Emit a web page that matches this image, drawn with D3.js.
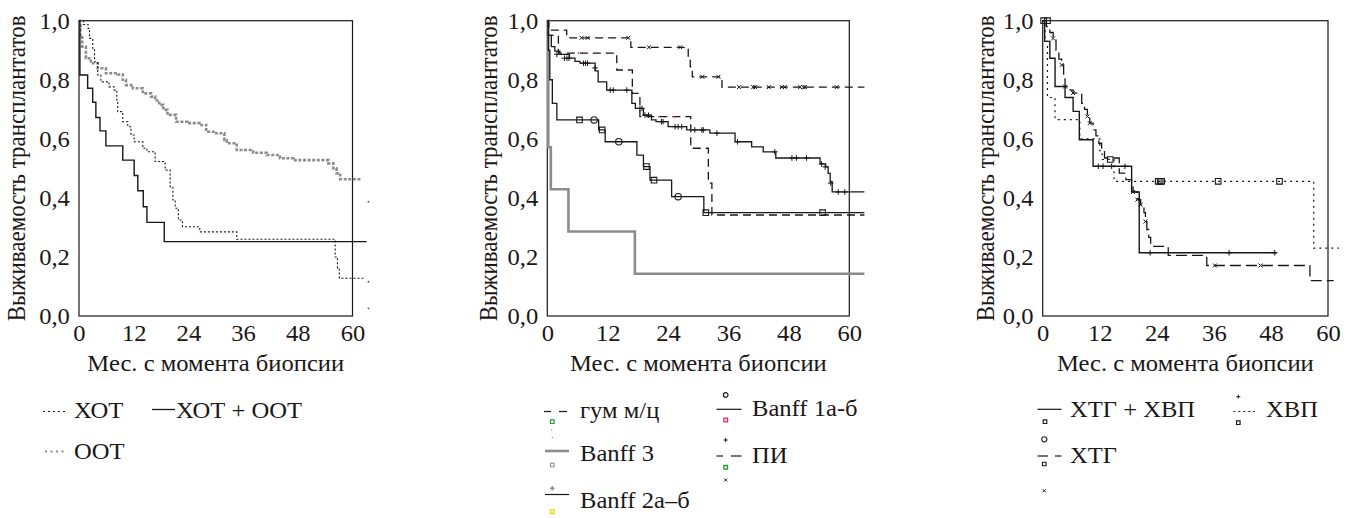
<!DOCTYPE html>
<html lang="ru">
<head>
<meta charset="utf-8">
<title>Выживаемость трансплантатов</title>
<script src="https://cdnjs.cloudflare.com/ajax/libs/d3/7.8.5/d3.min.js"></script>
<style>
  body { margin: 0; background: #fff; }
</style>
</head>
<body>
<div id="chart"></div>
<script>

const xTicks = [0, 12, 24, 36, 48, 60];
const yTicks = [0, 0.2, 0.4, 0.6, 0.8, 1.0];
const xLabel = "Мес. с момента биопсии";
const yLabel = "Выживаемость трансплантатов";

// ---- panel 1: [month, survival]
const khot = [[0,1],[1.0,0.987],[2.0,0.974],[2.3,0.94],[3.0,0.907],[3.4,0.861],[4.1,0.816],[4.8,0.793],[6.6,0.776],[7.7,0.765],[8.3,0.726],[8.5,0.692],[9.6,0.658],[10.7,0.641],[11.4,0.613],[12.1,0.59],[14.0,0.568],[14.9,0.556],[16.7,0.523],[18.9,0.494],[20.0,0.438],[20.6,0.393],[21.1,0.365],[21.8,0.325],[22.7,0.302],[26.5,0.285],[34.6,0.26],[56.2,0.2],[56.7,0.162],[57.1,0.128],[62.4,0.128]];
const khotOot = [[0,1],[0.2,0.816],[1.9,0.771],[3.0,0.724],[3.7,0.672],[4.6,0.627],[5.9,0.576],[9.6,0.528],[12.1,0.476],[12.9,0.424],[14.1,0.37],[14.9,0.317],[18.7,0.252],[63.1,0.252]];
const oot = [[0,1],[0.3,0.95],[0.7,0.912],[1.5,0.873],[2.6,0.856],[4.1,0.839],[5.9,0.822],[8.5,0.818],[9.6,0.8],[10.3,0.782],[11.8,0.771],[14.0,0.754],[15.8,0.743],[16.7,0.73],[17.6,0.715],[18.5,0.698],[19.4,0.681],[21.3,0.658],[23.8,0.653],[26.4,0.647],[27.9,0.624],[30.1,0.619],[31.9,0.596],[32.4,0.585],[34.6,0.562],[38.2,0.553],[41.2,0.545],[44.1,0.534],[47.0,0.528],[53.6,0.528],[54.7,0.517],[55.8,0.5],[56.5,0.483],[57.3,0.463],[62,0.463]];
const strayDots = [[63.5,0.387],[63.5,0.116],[63.5,0.026]];

// ---- panel 2
const gum = [[0,1],[0.2,0.95],[2.2,0.89],[13.8,0.833],[16.9,0.754],[18.4,0.675],[28.5,0.568],[32.0,0.45],[32.7,0.342],[63,0.342]];
const gumDots = [[0.5,1],[6.2,0.89],[16.6,0.833],[22.2,0.675],[25.2,0.675]];
const banff3 = [[0,1],[0.2,0.571],[0.7,0.429],[4.2,0.286],[17.4,0.143],[63,0.143]];
const banff1 = [[0,1],[0.2,0.9],[0.5,0.8],[1.0,0.72],[1.9,0.664],[10.2,0.63],[11.5,0.59],[17.8,0.545],[19.1,0.506],[20.4,0.46],[24.7,0.404],[31.1,0.35],[63,0.35]];
const banff1Squares = [[6.4,0.664],[10.9,0.63],[19.7,0.506],[21.2,0.46],[31.5,0.35],[54.7,0.35]];
const banff1Circles = [[9.3,0.664],[14.2,0.59],[26.0,0.404]];
const banff2 = [[0,1],[0.2,0.95],[0.8,0.912],[1.5,0.897],[2.5,0.886],[4.4,0.873],[5.5,0.862],[6.5,0.856],[9.5,0.83],[10.1,0.793],[11.8,0.765],[16.8,0.72],[17.5,0.703],[19.1,0.68],[20.7,0.664],[21.6,0.658],[24.0,0.641],[27.7,0.63],[32.3,0.619],[37.3,0.59],[40.6,0.573],[42.9,0.556],[45.4,0.535],[54.2,0.515],[55.3,0.505],[55.8,0.483],[56.2,0.455],[56.6,0.42],[63,0.42]];
const banff2Plus = [[1.9,0.886],[3.4,0.873],[3.9,0.873],[4.3,0.873],[7.2,0.856],[7.6,0.856],[8.0,0.856],[9.5,0.84],[12.5,0.765],[13.1,0.765],[15.8,0.765],[18.4,0.703],[18.8,0.703],[19.4,0.68],[20.1,0.68],[22.7,0.658],[23.0,0.658],[25.4,0.641],[26.0,0.641],[26.7,0.641],[29.3,0.63],[30.7,0.63],[31.0,0.63],[33.7,0.619],[37.8,0.59],[45.2,0.556],[48.6,0.535],[49.5,0.535],[51.5,0.535],[54.5,0.515],[55.2,0.505],[56.3,0.45],[57.8,0.42],[59.1,0.42]];
const pi = [[0,1],[0.3,0.968],[3.85,0.942],[16.6,0.91],[28.0,0.87],[28.4,0.844],[28.8,0.81],[34.7,0.775],[63,0.775]];
const piCross = [[6.8,0.942],[8.0,0.942],[16.1,0.942],[20.2,0.91],[26.4,0.91],[30.8,0.81],[34.0,0.81],[38.1,0.775],[40.9,0.775],[41.3,0.775],[44.0,0.775],[46.6,0.775],[47.2,0.775],[50.2,0.775],[50.9,0.775],[51.2,0.775],[57.5,0.775]];

// ---- panel 3
const khtgKhvp = [[0,1],[0.4,0.93],[1.5,0.873],[2.6,0.777],[4.7,0.74],[6.4,0.693],[7.7,0.597],[10.6,0.507],[18.7,0.42],[20.3,0.214],[49.2,0.214]];
const khtgKhvpPlus = [[11.7,0.507],[12.7,0.507],[14.5,0.507],[17.3,0.507],[22.6,0.214],[39.2,0.214],[48.8,0.214]];
const khtg = [[0,1],[0.8,0.98],[1.5,0.96],[2.2,0.94],[2.8,0.9],[3.4,0.87],[4.0,0.85],[4.4,0.81],[4.7,0.777],[5.8,0.765],[6.4,0.755],[8.2,0.72],[8.8,0.7],[9.4,0.676],[9.9,0.653],[10.6,0.63],[11.2,0.61],[11.8,0.585],[12.4,0.56],[13.0,0.535],[16.1,0.484],[17.5,0.462],[18.7,0.44],[19.0,0.42],[19.9,0.394],[20.6,0.377],[21.3,0.35],[21.6,0.32],[21.9,0.293],[22.3,0.266],[22.7,0.236],[26.4,0.205],[34.5,0.171],[56.2,0.12],[61.2,0.12]];
const khtgCross = [[2.2,0.94],[4.0,0.85],[4.7,0.777],[6.4,0.755],[9.4,0.676],[9.9,0.653],[19.0,0.42],[19.9,0.394],[20.6,0.377],[21.6,0.32],[36.2,0.171],[45.8,0.171]];
const khvp = [[0,1],[0.5,0.93],[1.0,0.74],[2.6,0.665],[7.8,0.6],[12.0,0.56],[12.5,0.53],[15.0,0.456],[57.0,0.23],[62.3,0.23]];
const khvpSquares = [[0.2,1],[1.0,1],[14.2,0.53],[24.3,0.456],[24.7,0.456],[25.0,0.456],[36.9,0.456],[49.8,0.456]];

const ink = "#1a1718", gray = "#8c8c8c";
const serif = "'Liberation Serif', 'DejaVu Serif', serif";
const fontSize = "23px";
const stretch = 1.07; // the printed figure is a bit wider than tall

const svg = d3.select("#chart").append("svg")
  .attr("width", 1356).attr("height", 518)
  .attr("font-family", serif).attr("font-size", 23);

const plotTop = 20.7, plotBottom = 316;
const panels = [
  {x0: 79, x1: 352.5, ylabX: 25},
  {x0: 547.3, x1: 849.3, ylabX: 496.5},
  {x0: 1042.7, x1: 1328, ylabX: 993.5}
];

function styleText(sel) {
  sel.style("font-family", serif).style("font-size", fontSize).attr("fill", ink);
}

function makePanel(p) {
  const x = d3.scaleLinear().domain([0, 60]).range([p.x0, p.x1]);
  const y = d3.scaleLinear().domain([0, 1]).range([plotBottom, plotTop]);
  const g = svg.append("g");

  g.append("g").attr("transform", `translate(0,${plotBottom})`)
    .call(d3.axisBottom(x).tickValues(xTicks).tickSize(0).tickPadding(9))
    .call(a => a.select(".domain").remove())
    .call(a => styleText(a.selectAll("text").attr("transform", `scale(${stretch},1)`)));
  g.append("g").attr("transform", `translate(${p.x0},0)`)
    .call(d3.axisLeft(y).tickValues(yTicks).tickSize(0).tickPadding(8.5)
      .tickFormat(d => d.toFixed(1).replace(".", ",")))
    .call(a => a.select(".domain").remove())
    .call(a => styleText(a.selectAll("text").attr("transform", `scale(${stretch},1)`)));

  g.append("rect")
    .attr("x", x(0)).attr("y", y(1))
    .attr("width", x(60) - x(0)).attr("height", y(0) - y(1))
    .attr("fill", "none").attr("stroke", ink).attr("stroke-width", 1.2);

  g.append("text")
    .attr("transform", `translate(${(p.x0 + p.x1) / 2},371) scale(${stretch},1)`)
    .attr("text-anchor", "middle").text(xLabel).call(styleText);
  g.append("text")
    .attr("transform", `translate(${p.ylabX},${(plotTop + plotBottom) / 2}) rotate(-90) scale(1,${stretch})`)
    .attr("text-anchor", "middle").text(yLabel).call(styleText);

  return {g, x, y};
}

function curve(P, data, stroke, w, dash) {
  P.g.append("path").datum(data)
    .attr("d", d3.line().x(d => P.x(d[0])).y(d => P.y(d[1])).curve(d3.curveStepAfter))
    .attr("fill", "none").attr("stroke", stroke)
    .attr("stroke-width", w).attr("stroke-dasharray", dash || null);
}

function shapePath(shape, cx, cy, r) {
  if (shape === "plus") return `M${cx - r},${cy}H${cx + r}M${cx},${cy - r}V${cy + r}`;
  if (shape === "cross") return `M${cx - r},${cy - r}L${cx + r},${cy + r}M${cx - r},${cy + r}L${cx + r},${cy - r}`;
  if (shape === "square") return `M${cx - r},${cy - r}h${2 * r}v${2 * r}h${-2 * r}Z`;
  return `M${cx - r},${cy}a${r},${r} 0 1,0 ${2 * r},0a${r},${r} 0 1,0 ${-2 * r},0Z`;
}

function marks(P, pts, shape, color, r, w) {
  const s = P.g.append("g").attr("fill", shape === "dot" ? color : "none")
    .attr("stroke", shape === "dot" ? "none" : color).attr("stroke-width", w || 1);
  s.selectAll("path").data(pts).join("path")
    .attr("d", d => shapePath(shape, P.x(d[0]), P.y(d[1]), r));
}

// legend helpers (pixel layout of the legend boxes only)
function legLine(x1, x2, y, stroke, w, dash) {
  svg.append("line").attr("x1", x1).attr("x2", x2).attr("y1", y).attr("y2", y)
    .attr("stroke", stroke).attr("stroke-width", w).attr("stroke-dasharray", dash || null);
}
function legText(x, y, t) {
  svg.append("text").attr("transform", `translate(${x},${y}) scale(${stretch},1)`)
    .text(t).call(styleText);
}
function legMark(shape, x, y, r, color, w) {
  svg.append("path").attr("d", shapePath(shape, x, y, r))
    .attr("fill", shape === "dot" ? color : "none")
    .attr("stroke", shape === "dot" ? "none" : color).attr("stroke-width", w || 1);
}

// ---- panel 1
const P1 = makePanel(panels[0]);
curve(P1, oot, gray, 2.6, "3,1.6");
curve(P1, khot, ink, 1.1, "2,2");
curve(P1, khotOot, ink, 1.4);
marks(P1, strayDots, "dot", "#555", 0.9);

legLine(43, 66, 411.5, ink, 1, "2,3");
legText(74, 418, "ХОТ");
legLine(152, 175, 409.5, ink, 1.3);
legText(176, 418, "ХОТ + ООТ");
legLine(45, 67, 451.5, gray, 1.8, "2,3.5");
legText(74, 459, "ООТ");

// ---- panel 2
const P2 = makePanel(panels[1]);
curve(P2, banff3, gray, 2.6);
curve(P2, banff1, ink, 1.3);
curve(P2, banff2, ink, 1.3);
curve(P2, gum, ink, 1.3, "8,5");
curve(P2, pi, ink, 1.3, "8,5");
marks(P2, banff1Squares, "square", ink, 2.8, 1.1);
marks(P2, banff1Circles, "circle", ink, 3.2, 1.1);
marks(P2, banff2Plus, "plus", ink, 2.8, 1);
marks(P2, piCross, "cross", ink, 2, 1);
marks(P2, gumDots, "dot", "#e8372f", 0.9);

legLine(544, 551, 411.5, ink, 1.2);
legLine(559, 567, 411.5, ink, 1.2);
legText(580, 418, "гум м/ц");
legMark("square", 552.3, 421.7, 1.8, "#1f9a3a", 1.2);
legMark("dot", 551.7, 430, 0.6, "#555");
legMark("dot", 552.3, 437.3, 0.6, "#e8372f");
legLine(545, 569, 451, gray, 2.6);
legText(580, 461, "Banff 3");
legMark("square", 552.3, 465, 1.8, gray, 1.1);
legMark("plus", 552.3, 488.3, 2.2, gray, 1.6);
legLine(545, 569, 494.5, ink, 1.2);
legText(580, 508, "Banff 2а–б");
legMark("square", 552.3, 511.7, 1.8, "#e6dc00", 1.3);

legMark("circle", 725.7, 395, 2.3, ink, 1.2);
legLine(716.5, 741.5, 409.3, ink, 1.2);
legText(752, 416, "Banff 1а-б");
legMark("square", 725.7, 420, 1.8, "#e0287a", 1.3);
legMark("plus", 725.7, 440, 2, ink, 1);
legLine(716.5, 723, 456, ink, 1.2);
legLine(731, 741.5, 456, ink, 1.2);
legText(752, 463, "ПИ");
legMark("square", 725.7, 467.3, 1.8, "#1f9a3a", 1.3);
legMark("cross", 725.7, 480, 1.5, ink, 1);

// ---- panel 3
const P3 = makePanel(panels[2]);
curve(P3, khvp, ink, 1.2, "2,4");
curve(P3, khtg, ink, 1.3, "11,5");
curve(P3, khtgKhvp, ink, 1.4);
marks(P3, khvpSquares, "square", ink, 2.8, 1.1);
marks(P3, khtgKhvpPlus, "plus", ink, 2.8, 1);
marks(P3, khtgCross, "cross", ink, 2, 1);

legLine(1037.5, 1061.5, 409.3, ink, 1.2);
legText(1070, 417, "ХТГ + ХВП");
legMark("square", 1045, 421.7, 1.8, ink, 1.1);
legMark("plus", 1238.3, 396.7, 2, ink, 1);
legLine(1233.3, 1255, 411.5, ink, 1, "2,3");
legText(1266, 417, "ХВП");
legMark("square", 1238.3, 422.7, 1.8, ink, 1.1);
legMark("circle", 1044.3, 439.3, 2.6, ink, 1.1);
legLine(1037.5, 1048, 456, ink, 1.2);
legLine(1055, 1061.5, 456, ink, 1.2);
legText(1070, 463, "ХТГ");
legMark("square", 1044.3, 464, 1.8, ink, 1.1);
legMark("cross", 1044.3, 490.7, 1.5, ink, 1);

</script>
</body>
</html>
